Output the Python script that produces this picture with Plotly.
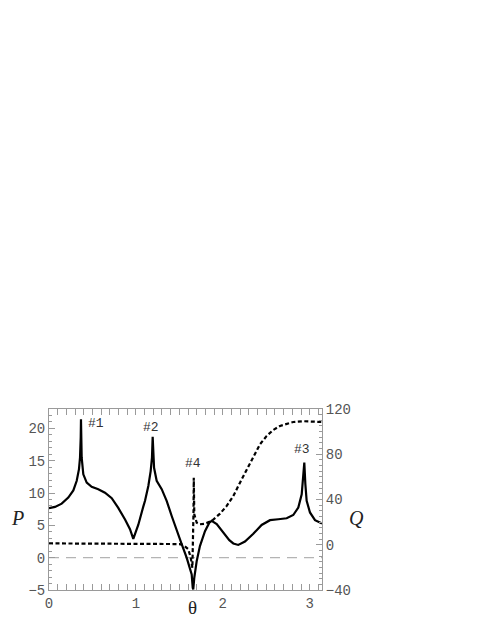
import math
import plotly.graph_objects as go

# solid curve: P(theta), left axis
theta_p = [0.0, 0.069, 0.146, 0.222, 0.28, 0.319, 0.345, 0.357, 0.365, 0.368, 0.376, 0.395,
           0.434, 0.491, 0.567, 0.644, 0.722, 0.797, 0.875, 0.932, 0.97, 1.028, 1.085, 1.105,
           1.143, 1.170, 1.185, 1.193, 1.209, 1.239, 1.297, 1.354, 1.412, 1.47, 1.527, 1.584,
           1.623, 1.642, 1.654, 1.66, 1.672, 1.70, 1.737, 1.795, 1.845, 1.872, 1.93, 1.968,
           2.006, 2.045, 2.075, 2.121, 2.178, 2.255, 2.351, 2.447, 2.543, 2.639, 2.735, 2.811,
           2.869, 2.908, 2.926, 2.938, 2.95, 2.965, 3.003, 3.061, math.pi]
p_vals = [7.65, 7.85, 8.36, 9.3, 10.4, 11.9, 13.7, 15.5, 18.6, 21.4, 15.5, 12.9,
          11.6, 10.95, 10.6, 10.05, 9.2, 7.7, 5.9, 4.4, 2.9, 5.1, 7.9, 8.8,
          11.1, 13.4, 15.5, 18.7, 13.9, 11.9, 10.6, 8.8, 6.45, 4.1, 2.1, 0.0,
          -1.55, -2.6, -4.65, -4.9, -3.1, -0.5, 1.8, 4.1, 5.4, 5.7, 5.2, 4.5,
          3.85, 3.15, 2.7, 2.2, 1.97, 2.5, 3.7, 5.06, 5.8, 5.95, 6.1, 6.6,
          7.75, 9.8, 12.4, 14.7, 11.4, 8.8, 7.0, 5.8, 5.3]

# dashed curve: Q(theta), right axis
theta_q = [0.0, 0.5, 1.0, 1.5, 1.546, 1.603, 1.631, 1.65, 1.663, 1.666, 1.672, 1.70, 1.737,
           1.795, 1.872, 1.968, 2.045, 2.121, 2.198, 2.275, 2.351, 2.428, 2.505, 2.581,
           2.658, 2.735, 2.811, 2.926, math.pi]
q_vals = [1.2, 1.1, 0.9, 0.6, -0.2, -4.0, -11.4, -20.3, 30.0, 59.3, 26.9, 19.5, 18.1,
          18.6, 21.0, 27.5, 34.3, 43.1, 54.9, 66.0, 78.0, 88.8, 96.2, 101.5,
          105.0, 107.0, 108.5, 109.2, 108.5]

labels = ["#1", "#2", "#4", "#3"]
label_theta = [0.54, 1.17, 1.654, 2.908]
label_p = [20.7, 20.2, 14.5, 16.8]

mono = "Liberation Mono, Courier New, monospace"
serif = "Liberation Serif, Times New Roman, serif"
frame = "#9a9a9a"

fig = go.Figure()
fig.add_trace(go.Scatter(x=[0, math.pi], y=[0, 0], mode="lines",
                         line=dict(color="#b4b4b4", width=1.2, dash="10px,7px"), hoverinfo="skip"))
fig.add_trace(go.Scatter(x=theta_p, y=p_vals, mode="lines", line=dict(color="black", width=2.2)))
fig.add_trace(go.Scatter(x=theta_q, y=q_vals, mode="lines", yaxis="y2",
                         line=dict(color="black", width=2.2, dash="4px,2.5px")))

for t, th, pv in zip(labels, label_theta, label_p):
    fig.add_annotation(x=th, y=pv, text=t, showarrow=False, xanchor="center",
                       font=dict(family=mono, size=13, color="#333"))

fig.add_annotation(x=0.525, y=-0.095, xref="paper", yref="paper", text="θ", showarrow=False,
                   xanchor="center", yanchor="middle", font=dict(family=serif, size=19, color="#222"))
fig.add_annotation(x=-0.117, y=0.398, xref="paper", yref="paper", text="<i>P</i>", showarrow=False,
                   xanchor="center", yanchor="middle", font=dict(family=serif, size=20, color="#222"))
fig.add_annotation(x=1.128, y=0.398, xref="paper", yref="paper", text="<i>Q</i>", showarrow=False,
                   xanchor="center", yanchor="middle", font=dict(family=serif, size=20, color="#222"))

tick_font = dict(family=mono, size=14, color="#555")
# page body adds an 8px offset, so the figure is 8px smaller than the window
fig.update_layout(
    width=477, height=619,
    margin=dict(l=41, r=163, t=401, b=37),
    plot_bgcolor="white", paper_bgcolor="white",
    showlegend=False,
    xaxis=dict(range=[0, math.pi], tickvals=[0, 1, 2, 3], ticks="inside", ticklen=6, tickcolor=frame,
               showline=True, linecolor=frame, linewidth=1, mirror="allticks", showgrid=False, zeroline=False,
               minor=dict(ticks="inside", dtick=0.1, ticklen=3, tickcolor=frame, showgrid=False),
               tickfont=tick_font),
    yaxis=dict(range=[-5, 23], tickvals=[-5, 0, 5, 10, 15, 20], ticks="inside", ticklen=6, tickcolor=frame,
               showline=True, linecolor=frame, linewidth=1, showgrid=False, zeroline=False,
               minor=dict(ticks="inside", dtick=1, ticklen=3, tickcolor=frame, showgrid=False),
               tickfont=tick_font),
    yaxis2=dict(range=[-40, 120], tickvals=[-40, 0, 40, 80, 120], overlaying="y", side="right",
                ticks="inside", ticklen=6, tickcolor=frame,
                showline=True, linecolor=frame, linewidth=1, showgrid=False, zeroline=False,
                minor=dict(ticks="inside", dtick=5, ticklen=3, tickcolor=frame, showgrid=False),
                tickfont=tick_font),
)

fig.write_html("out.html")
